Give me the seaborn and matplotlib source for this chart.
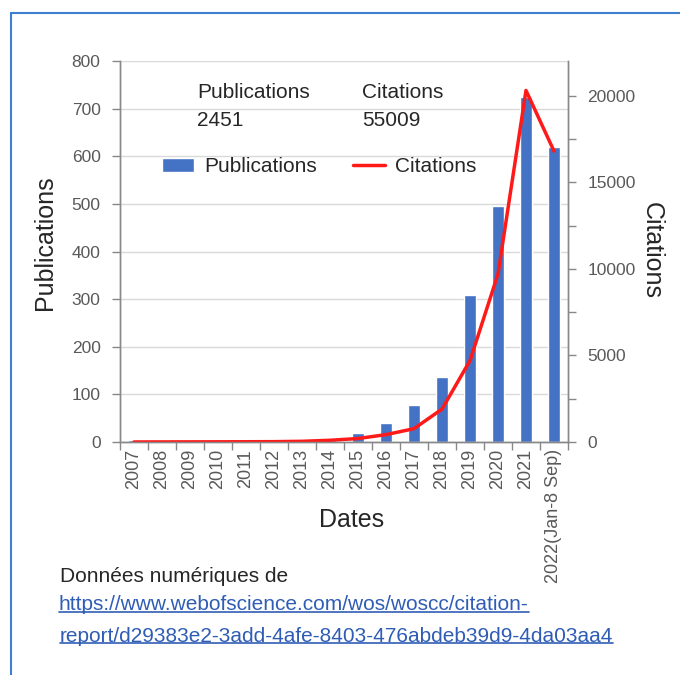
import matplotlib
matplotlib.use("Agg")
import matplotlib.pyplot as plt
from matplotlib.lines import Line2D
from matplotlib.ticker import MultipleLocator, FixedLocator
import seaborn as sns
import numpy as np
import pandas as pd

# ── Data (Web of Science citation report) ─────────────────────
years = ["2007", "2008", "2009", "2010", "2011", "2012", "2013", "2014",
         "2015", "2016", "2017", "2018", "2019", "2020", "2021", "2022(Jan-8 Sep)"]
publications = [5, 3, 3, 3, 3, 3, 3, 5, 18, 40, 78, 137, 309, 496, 725, 620]
citations = [2, 5, 8, 10, 15, 20, 40, 100, 200, 425, 770, 1900, 4700, 9700, 20300, 16800]
total_pubs = "2451"
total_cits = "55009"

df = pd.DataFrame({"year": years, "pubs": publications, "cits": citations})

sns.set_theme(style="white")
plt.rcParams["font.family"] = ["Liberation Sans", "DejaVu Sans"]
GREY = "#595959"

fig = plt.figure(figsize=(6.8, 6.75), dpi=100)
ax = fig.add_axes([120/680, 1-442/675, 448/680, 381/675])
ax2 = ax.twinx()

# ── Bars + line ───────────────────────────────────────────────
sns.barplot(data=df, x="year", y="pubs", color="#4472C4", saturation=1,
            width=0.42, ax=ax, label="Publications")
sns.lineplot(x=np.arange(len(df)), y=df["cits"], color="#FF1A1A",
             linewidth=2.5, ax=ax2, label="Citations")

ax.set_xlim(-0.5, len(df)-0.5); ax2.set_xlim(-0.5, len(df)-0.5)
ax.set_ylim(0, 800); ax2.set_ylim(0, 22000)
ax.set_xlabel(""); ax.set_ylabel(""); ax2.set_ylabel("")

ax.yaxis.set_major_locator(MultipleLocator(100))
ax2.yaxis.set_major_locator(MultipleLocator(5000))
ax2.yaxis.set_minor_locator(MultipleLocator(2500))
ax.xaxis.set_minor_locator(FixedLocator(np.arange(-0.5, len(df), 1)))

ax.grid(axis="y", color="#D9D9D9", linewidth=1)
ax.set_axisbelow(True)
ax.tick_params(axis="x", which="major", length=0, pad=5, rotation=90,
               labelsize=13, labelcolor=GREY)
ax.tick_params(axis="x", which="minor", length=6, color="#888888", width=1,
               direction="out", bottom=True)
ax.tick_params(axis="y", length=6, color="#888888", width=1, direction="out",
               left=True, pad=8, labelsize=12.5, labelcolor=GREY)
ax2.tick_params(axis="y", which="both", length=6, color="#888888", width=1,
                direction="out", right=True, pad=8, labelsize=12.5, labelcolor=GREY)

for a in (ax, ax2):
    a.spines["top"].set_visible(False)
    for s in ("left", "right", "bottom"):
        a.spines[s].set_color("#888888"); a.spines[s].set_linewidth(1)

# ── Legend + totals ───────────────────────────────────────────
h1, l1 = ax.get_legend_handles_labels()
h2, l2 = ax2.get_legend_handles_labels()
ax2.get_legend().remove()
ax.legend(h1 + h2, l1 + l2, ncol=2, frameon=False, fontsize=15,
          loc="center", bbox_to_anchor=(0.445, 0.722), handlelength=1.55,
          handleheight=0.6, handletextpad=0.5, columnspacing=1.7)

fig.text(197/680, 1-93/675, "Publications", fontsize=15, va="center")
fig.text(197/680, 1-121/675, total_pubs, fontsize=15, va="center")
fig.text(362/680, 1-93/675, "Citations", fontsize=15, va="center")
fig.text(362/680, 1-121/675, total_cits, fontsize=15, va="center")

# ── Axis titles ───────────────────────────────────────────────
fig.text(45/680, 1-243/675, "Publications", fontsize=18, rotation=90,
         ha="center", va="center")
fig.text(652/680, 1-250/675, "Citations", fontsize=18, rotation=-90,
         ha="center", va="center")
fig.text(352/680, 1-520/675, "Dates", fontsize=18, ha="center", va="center")

# ── Source note ───────────────────────────────────────────────
fig.text(60/680, 1-577/675, "Données numériques de", fontsize=15, va="center")
LINK = "#2F5DB5"
links = [fig.text(59/680, 1-605/675, "https://www.webofscience.com/wos/woscc/citation-",
                  fontsize=15, va="center", color=LINK),
         fig.text(60/680, 1-636/675, "report/d29383e2-3add-4afe-8403-476abdeb39d9-4da03aa4",
                  fontsize=15, va="center", color=LINK)]
fig.canvas.draw()
inv = fig.transFigure.inverted()
for t in links:
    bb = t.get_window_extent().transformed(inv)
    fig.add_artist(Line2D([bb.x0, bb.x1], [bb.y0 + 0.003, bb.y0 + 0.003],
                          color=LINK, linewidth=1.2, transform=fig.transFigure))

# ── Frame (top + left) ────────────────────────────────────────
fig.add_artist(Line2D([11/680, 1], [1-13/675, 1-13/675], color="#3F7FCF",
                      linewidth=1.5, transform=fig.transFigure))
fig.add_artist(Line2D([11/680, 11/680], [0, 1-13/675], color="#3F7FCF",
                      linewidth=1.5, transform=fig.transFigure))

fig.savefig("out.png", dpi=100)
